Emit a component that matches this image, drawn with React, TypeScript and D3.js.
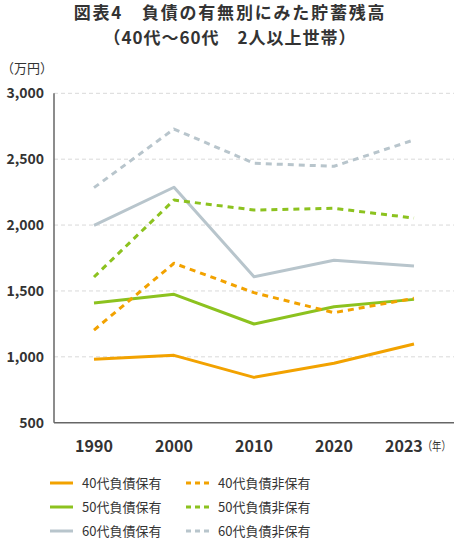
import React from "react";
import * as d3 from "d3";

const years = ["1990", "2000", "2010", "2020", "2023"];
const yTicks = [500, 1000, 1500, 2000, 2500, 3000];

const s40Debt = [981, 1011, 844, 951, 1097];
const s40NoDebt = [1203, 1710, 1487, 1335, 1444];
const s50Debt = [1408, 1474, 1249, 1380, 1436];
const s50NoDebt = [1606, 2190, 2114, 2127, 2053];
const s60Debt = [1998, 2287, 1608, 1733, 1689];
const s60NoDebt = [2284, 2729, 2469, 2446, 2646];

const seriesNames = [
  "40代負債保有", "40代負債非保有",
  "50代負債保有", "50代負債非保有",
  "60代負債保有", "60代負債非保有",
];

const ORANGE = "#f2a200";
const GREEN = "#8cc21f";
const GRAY = "#b8c5cc";

const series = [
  { name: seriesNames[0], values: s40Debt, color: ORANGE, dashed: false },
  { name: seriesNames[1], values: s40NoDebt, color: ORANGE, dashed: true },
  { name: seriesNames[2], values: s50Debt, color: GREEN, dashed: false },
  { name: seriesNames[3], values: s50NoDebt, color: GREEN, dashed: true },
  { name: seriesNames[4], values: s60Debt, color: GRAY, dashed: false },
  { name: seriesNames[5], values: s60NoDebt, color: GRAY, dashed: true },
];

const FONT = "'Noto Sans CJK JP', 'Noto Sans', sans-serif";
const TEXT = "#333333";

export default function App() {
  const W = 460, H = 546;
  const left = 54, right = 454, top = 93.3, bottom = 422.7;
  const x = d3.scaleBand<string>().domain(years).range([left, right]).padding(0);
  const y = d3.scaleLinear().domain([500, 3000]).range([bottom, top]);
  const cx = (yr: string) => (x(yr) as number) + x.bandwidth() / 2;
  const line = d3.line<number>()
    .x((_, i) => cx(years[i]))
    .y((v) => y(v));

  // draw order: grays first, then greens, then oranges
  const drawOrder = [5, 4, 3, 2, 1, 0];
  const lastYear = years[years.length - 1];

  return (
    <svg width={W} height={H} style={{ position: "absolute", left: 0, top: 0, background: "#fff" }} fontFamily={FONT}>
      <text x={230} y={19} textAnchor="middle" fontSize={17} fontWeight={700} letterSpacing={1.8} fill={TEXT}>図表4　負債の有無別にみた貯蓄残高</text>
      <text x={230} y={44} textAnchor="middle" fontSize={17} fontWeight={700} letterSpacing={1} fill={TEXT}>（40代～60代　2人以上世帯）</text>
      <text x={1} y={73} fontSize={13} fill={TEXT}>（万円）</text>

      {yTicks.map((t) => (
        <g key={t}>
          {t > 500 && (
            <line x1={left} x2={right} y1={y(t)} y2={y(t)} stroke="#d9d9d9" strokeWidth={1} strokeDasharray="4,3" />
          )}
          <text x={44} y={y(t) + 5} textAnchor="end" fontSize={14} fontWeight={700} fill={TEXT}>
            {d3.format(",")(t)}
          </text>
        </g>
      ))}

      <line x1={left} x2={left} y1={top} y2={bottom} stroke="#666" strokeWidth={1.5} />
      <line x1={left} x2={right} y1={bottom} y2={bottom} stroke="#666" strokeWidth={1.5} />

      {years.slice(0, -1).map((yr) => (
        <text key={yr} x={cx(yr)} y={452} textAnchor="middle" fontSize={16} fontWeight={700} fill={TEXT}>{yr}</text>
      ))}
      <text x={cx(lastYear) - 29} y={452} fontSize={16} fontWeight={700} fill={TEXT}>
        {lastYear}
        <tspan fontSize={12} fontWeight={400} dy={-1} textLength={28} lengthAdjust="spacingAndGlyphs">（年）</tspan>
      </text>

      {drawOrder.map((i) => {
        const s = series[i];
        return (
          <path key={s.name} d={line(s.values) || ""} fill="none" stroke={s.color} strokeWidth={3}
            strokeDasharray={s.dashed ? "6,5" : undefined} strokeLinejoin="round" />
        );
      })}

      {series.map((s, i) => {
        const col = i % 2;
        const row = Math.floor(i / 2);
        const lx = col === 0 ? 50 : 186;
        const ly = 483 + row * 24;
        return (
          <g key={"lg" + s.name}>
            <line x1={lx} x2={lx + 23} y1={ly} y2={ly} stroke={s.color} strokeWidth={3}
              strokeDasharray={s.dashed ? "5,4" : undefined} />
            <text x={lx + 32} y={ly + 4.5} fontSize={13} fill={TEXT}>{s.name}</text>
          </g>
        );
      })}
    </svg>
  );
}
